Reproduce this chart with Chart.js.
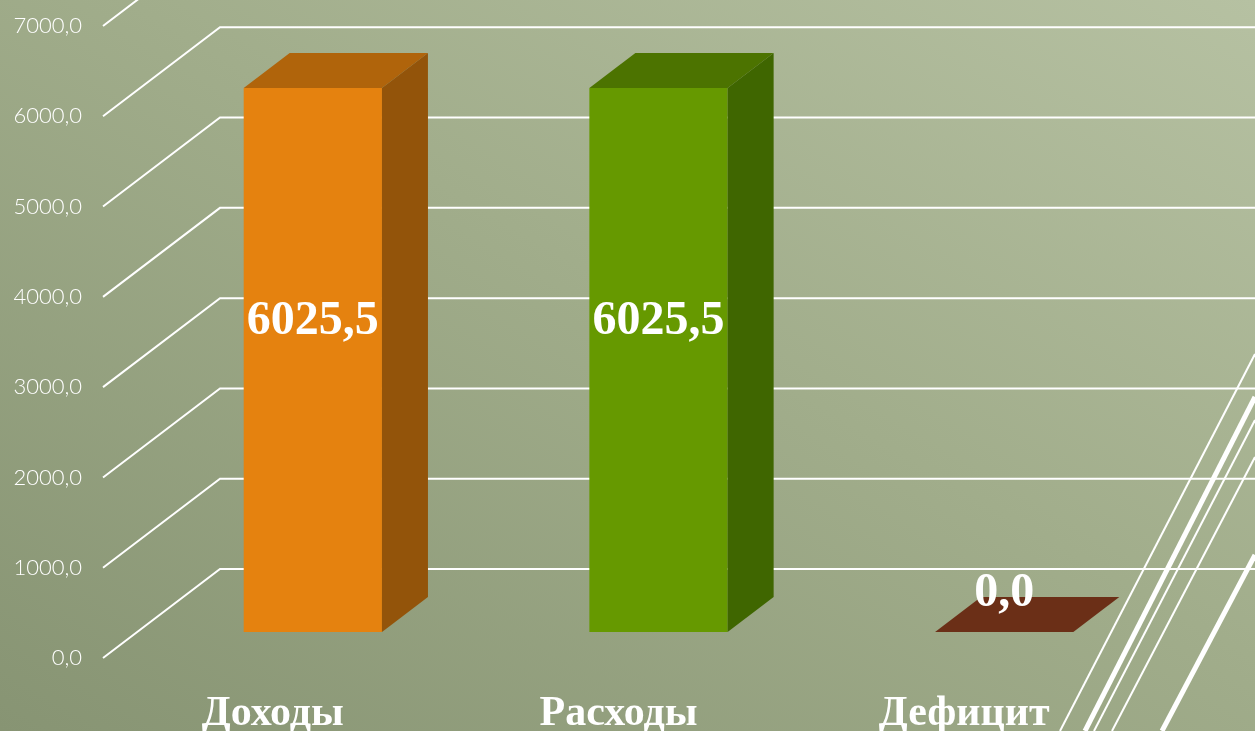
<!DOCTYPE html>
<html>
<head>
<meta charset="utf-8">
<script src="https://cdn.jsdelivr.net/npm/chart.js@4.4.1/dist/chart.umd.min.js"></script>
<style>
    html, body { margin: 0; padding: 0; }
    body {
        width: 1255px; height: 731px; overflow: hidden;
        background: linear-gradient(to top right, #879473 0%, #a1ad8b 55%, #b6c1a2 100%);
    }
    #wrap { width: 1255px; height: 731px; position: relative; }
</style>
</head>
<body>
<div id="wrap"><canvas id="budgetChart"></canvas></div>
<script>
// Chart data
const categories = ['Доходы', 'Расходы', 'Дефицит'];
const values = [6025.5, 6025.5, 0.0];
const yTicks = [0, 1000, 2000, 3000, 4000, 5000, 6000, 7000];

// bar colours: front, top, side
const frontColors = ['#e5820f', '#669900', '#6b2f17'];
const topColors = ['#b0640b', '#4c7300', '#6b2f17'];
const sideColors = ['#93540a', '#3f6600', '#4f220f'];

const DEPTH_X = 46, DEPTH_Y = -35;   // bar depth
const WALL_X = 117, WALL_Y = -89;    // label plane -> back wall
const LABEL_SHIFT = 26;              // label plane below bar plane

function fmt(v) {
    return v.toFixed(1).replace('.', ',');
}

// back wall grid lines (diagonal + horizontal)
const wallGrid = {
    id: 'wallGrid',
    beforeDatasetsDraw(chart) {
        const ctx = chart.ctx;
        const y = chart.scales.y;
        ctx.save();
        ctx.strokeStyle = '#ffffff';
        ctx.lineWidth = 2;
        yTicks.forEach(v => {
            const py = y.getPixelForValue(v) + LABEL_SHIFT;
            const x0 = 103;
            ctx.beginPath();
            ctx.moveTo(x0, py);
            ctx.lineTo(x0 + WALL_X, py + WALL_Y);
            ctx.lineTo(chart.width, py + WALL_Y);
            ctx.stroke();
        });
        ctx.restore();
    }
};

// 3d faces + value labels
const bars3d = {
    id: 'bars3d',
    afterDatasetsDraw(chart) {
        const ctx = chart.ctx;
        const meta = chart.getDatasetMeta(0);
        ctx.save();
        meta.data.forEach((bar, i) => {
            const p = bar.getProps(['x', 'y', 'base', 'width'], true);
            const l = p.x - p.width / 2, r = p.x + p.width / 2;
            const top = Math.min(p.y, p.base), base = Math.max(p.y, p.base);
            // top face
            ctx.fillStyle = topColors[i];
            ctx.beginPath();
            ctx.moveTo(l, top);
            ctx.lineTo(l + DEPTH_X, top + DEPTH_Y);
            ctx.lineTo(r + DEPTH_X, top + DEPTH_Y);
            ctx.lineTo(r, top);
            ctx.closePath();
            ctx.fill();
            // side face
            if (base - top > 0) {
                ctx.fillStyle = sideColors[i];
                ctx.beginPath();
                ctx.moveTo(r, top);
                ctx.lineTo(r + DEPTH_X, top + DEPTH_Y);
                ctx.lineTo(r + DEPTH_X, base + DEPTH_Y);
                ctx.lineTo(r, base);
                ctx.closePath();
                ctx.fill();
            }
        });
        // value labels
        ctx.fillStyle = '#ffffff';
        ctx.font = 'bold 48px "Liberation Serif", "Times New Roman", serif';
        ctx.textAlign = 'center';
        ctx.textBaseline = 'middle';
        meta.data.forEach((bar, i) => {
            const p = bar.getProps(['x', 'y', 'base'], true);
            ctx.fillText(fmt(values[i]), p.x, (p.y + p.base) / 2 - 38);
        });
        ctx.restore();
    }
};

// decorative slide lines, bottom right
const decoLines = {
    id: 'decoLines',
    afterDraw(chart) {
        const ctx = chart.ctx;
        const lines = [
            [1255, 354, 1060, 731, 2],
            [1255, 397, 1085, 731, 5],
            [1255, 420, 1094, 731, 2],
            [1255, 457, 1112, 731, 2],
            [1255, 555, 1162, 731, 5]
        ];
        ctx.save();
        ctx.strokeStyle = '#ffffff';
        lines.forEach(([x1, y1, x2, y2, w]) => {
            ctx.lineWidth = w;
            ctx.beginPath();
            ctx.moveTo(x1, y1);
            ctx.lineTo(x2, y2);
            ctx.stroke();
        });
        ctx.restore();
    }
};

const ctx = document.getElementById('budgetChart').getContext('2d');
const budgetChart = new Chart(ctx, {
    type: 'bar',
    data: {
        labels: categories,
        datasets: [{
            data: values,
            backgroundColor: frontColors,
            borderWidth: 0,
            barPercentage: 0.4,
            categoryPercentage: 1
        }]
    },
    options: {
        responsive: true,
        maintainAspectRatio: false,
        animation: false,
        layout: { padding: { left: 0, right: 78, top: 0, bottom: 0 } },
        scales: {
            x: {
                grid: { display: false, drawTicks: false },
                border: { display: false },
                ticks: {
                    color: '#ffffff',
                    font: { family: '"Liberation Serif", "Times New Roman", serif', size: 42, weight: 'bold' },
                    padding: 57,
                    labelOffset: -40,
                    maxRotation: 0,
                    minRotation: 0
                },
                afterFit(s) { s.height = 99; s.paddingLeft = 0; s.paddingRight = 0; }
            },
            y: {
                min: 0,
                max: 7000,
                grid: { display: false, drawTicks: false },
                border: { display: false },
                afterBuildTicks(s) { s.ticks = yTicks.map(v => ({ value: v })); },
                ticks: {
                    color: '#ffffff',
                    font: { family: 'Lato, "DejaVu Sans", sans-serif', size: 22, weight: 300 },
                    padding: 58,
                    labelOffset: LABEL_SHIFT,
                    callback: v => fmt(v)
                },
                afterFit(s) { s.width = 140; s.paddingTop = 0; s.paddingBottom = 0; }
            }
        },
        plugins: {
            legend: { display: false },
            tooltip: { enabled: false }
        }
    },
    plugins: [wallGrid, bars3d, decoLines]
});
</script>
</body>
</html>
